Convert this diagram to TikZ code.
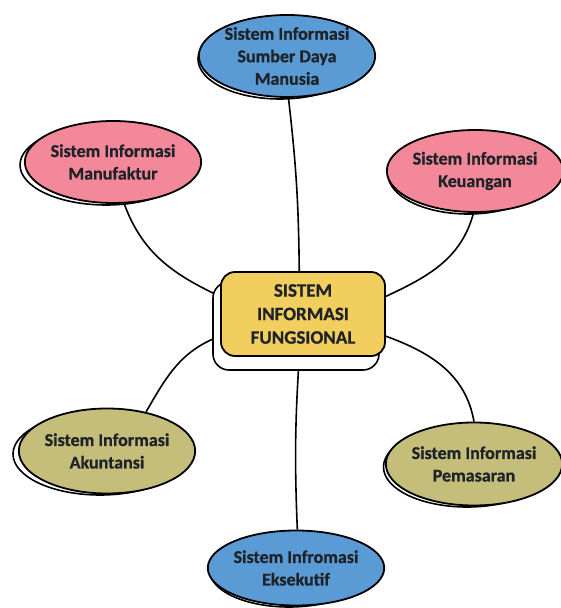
\documentclass[tikz,border=0pt]{standalone}
\usepackage{fontspec}
\setmainfont{Carlito}[BoldFeatures={FakeBold=0.8}]
\usetikzlibrary{shapes.geometric,backgrounds}
\definecolor{cblue}{HTML}{5B9BD5}
\definecolor{cpink}{HTML}{F2889A}
\definecolor{cyel}{HTML}{F2CE5E}
\definecolor{colive}{HTML}{C5BD7A}
\definecolor{ctext}{HTML}{1E2328}
\begin{document}
\begin{tikzpicture}[x=1pt,y=1pt,
  blob/.style={ellipse, draw=black, line width=1.8pt, inner sep=0pt, align=center,
    text=ctext, font=\bfseries\fontsize{18}{22.5}\selectfont},
  shadowblob/.style={ellipse, draw=black, line width=1.6pt, fill=white, inner sep=0pt},
  mainbox/.style={rectangle, rounded corners=14pt, draw=black, line width=1.8pt, fill=cyel,
    align=center, text=ctext, font=\bfseries\fontsize{19}{23.5}\selectfont},
  shadowbox/.style={rectangle, rounded corners=16pt, draw=black, line width=1.6pt, fill=white},
  link/.style={draw=black, line width=1.6pt}]
\useasboundingbox (0,0) rectangle (561,608);

% shadows
\node[shadowblob, minimum width=164pt, minimum height=80pt] (hrs) at (280,549) {};
\node[shadowblob, minimum width=172pt, minimum height=80pt] (mans) at (106,443) {};
\node[shadowblob, minimum width=160pt, minimum height=80pt] (keus) at (468,434) {};
\node[shadowblob, minimum width=174pt, minimum height=82pt] (akus) at (100,154) {};
\node[shadowblob, minimum width=167pt, minimum height=80pt] (pems) at (467,141) {};
\node[shadowblob, minimum width=158pt, minimum height=72pt] (ekss) at (289,37) {};
\node[shadowbox, minimum width=166pt, minimum height=88pt] (ctrs) at (296,282) {};

% main nodes
\node[blob, fill=cblue, minimum width=160pt, minimum height=82pt] (hr) at (287,552)
  {Sistem Informasi\\Sumber Daya\\Manusia};
\node[blob, fill=cpink, minimum width=172pt, minimum height=82pt] (man) at (113,446)
  {Sistem Informasi\\Manufaktur};
\node[blob, fill=cpink, minimum width=160pt, minimum height=82pt] (keu) at (475,437)
  {Sistem Informasi\\Keuangan};
\node[blob, fill=colive, minimum width=175pt, minimum height=85pt] (aku) at (107,157)
  {Sistem Informasi\\Akuntansi};
\node[blob, fill=colive, minimum width=168pt, minimum height=83pt] (pem) at (474,144)
  {Sistem Informasi\\Pemasaran};
\node[blob, fill=cblue, minimum width=158pt, minimum height=75pt] (eks) at (296,40)
  {Sistem Infromasi\\Eksekutif};
\node[mainbox, minimum width=164pt, minimum height=84pt] (ctr) at (303,294)
  {SISTEM\\INFORMASI\\FUNGSIONAL};

\begin{pgfonlayer}{background}
  \draw[link] (hr.-88) to[bend left=3] (ctr.95);
  \draw[link] (man.-75) to[out=-70,in=155] (ctr.168);
  \draw[link] (keu.-92) to[out=-105,in=25] (ctr.12);
  \draw[link] (aku.45) to[out=60,in=-160] (ctr.195);
  \draw[link] (pem.90) to[out=100,in=-20] (ctr.-15);
  \draw[link] (eks.88) to[bend left=3] (ctr.-95);
\end{pgfonlayer}
\end{tikzpicture}
\end{document}
